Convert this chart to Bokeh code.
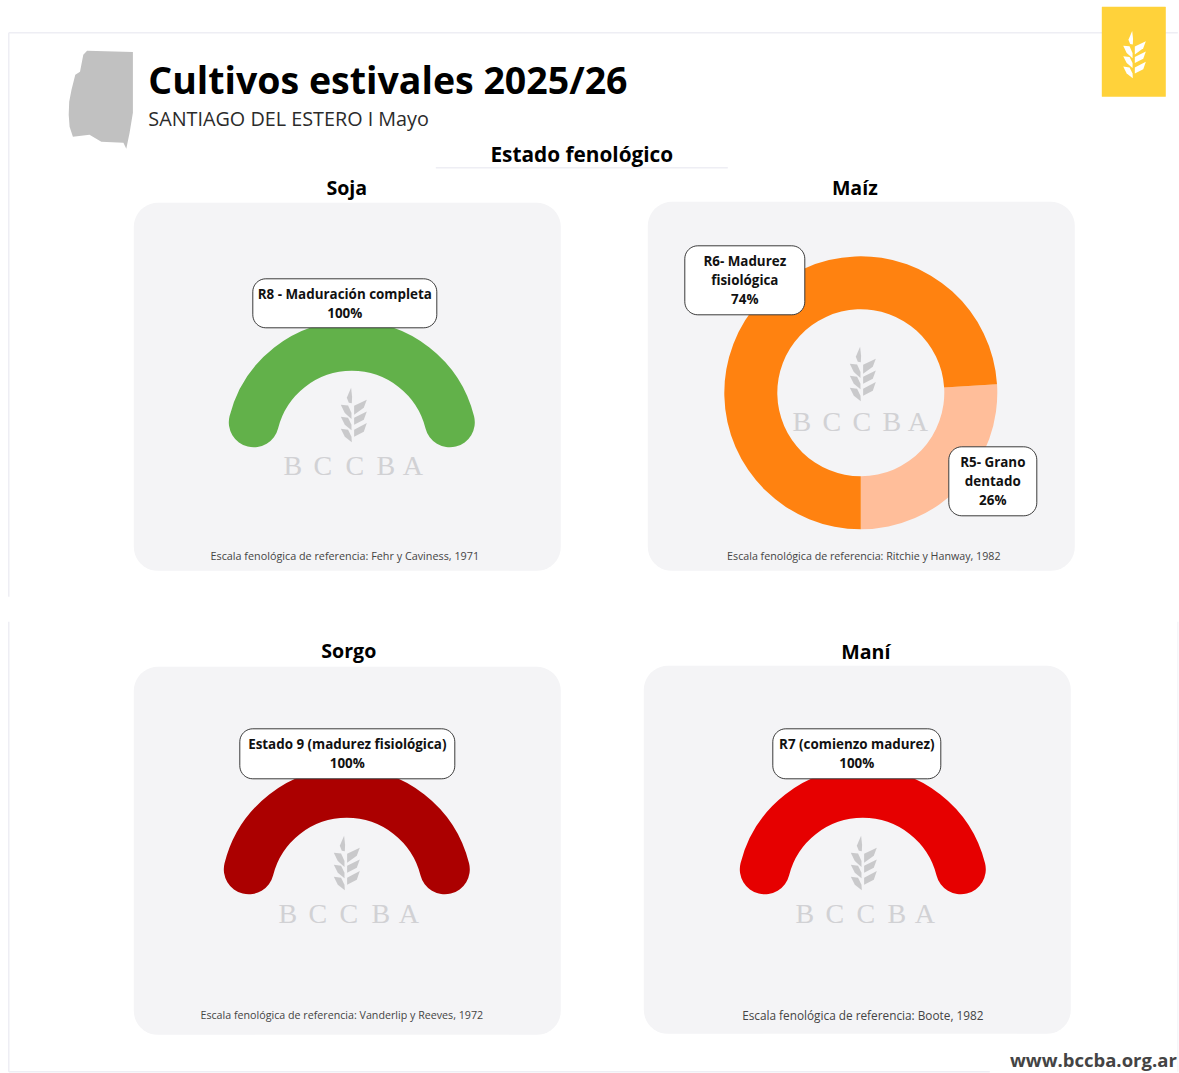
import math
from bokeh.plotting import figure
from bokeh.models import Range1d
from bokeh.core.properties import value
from bokeh.embed import file_html
from bokeh.resources import INLINE

# ---- data ----
crops = ["Soja", "Sorgo", "Maní"]
stages = [["R8 - Maduración completa"], ["Estado 9 (madurez fisiológica)"], ["R7 (comienzo madurez)"]]
percents = [100, 100, 100]
colors = ["#62B14A", "#AB0000", "#E60000"]
footers = ["Escala fenológica de referencia: Fehr y Caviness, 1971",
           "Escala fenológica de referencia: Vanderlip y Reeves, 1972",
           "Escala fenológica de referencia: Boote, 1982"]
maiz_values = [26, 74]
maiz_colors = ["#FFBE9A", "#FF8210"]
maiz_labels = [["R5- Grano", "dentado"], ["R6- Madurez", "fisiológica"]]
maiz_footer = "Escala fenológica de referencia: Ritchie y Hanway, 1982"
title = "Cultivos estivales 2025/26"
subtitle = "SANTIAGO DEL ESTERO I Mayo"
section = "Estado fenológico"
website = "www.bccba.org.ar"
brand = ["B", "C", "C", "B", "A"]

FONT = "Open Sans"
p = figure(width=1179, height=1073, output_backend="svg", toolbar_location=None,
           x_range=Range1d(0.7, 1179.7), y_range=Range1d(1073.7, 0.7),
           min_border=0, min_border_left=0, min_border_right=0, min_border_top=0, min_border_bottom=0)
p.axis.visible = False
p.grid.visible = False
p.outline_line_color = None
p.background_fill_color = "white"
p.border_fill_color = "white"


def label(x, y, t, size, color="#000000", style="normal", align="center", font=FONT):
    p.text([x], [y], text=[t], text_font=value(font), text_font_size=f"{size}px",
           text_font_style=style, text_color=color, text_align=align, text_baseline="middle")


def rrect(x0, y0, x1, y1, r, fill, line=None, lw=1.0):
    xs, ys = [], []
    corners = [(x1 - r, y0 + r, -90), (x1 - r, y1 - r, 0), (x0 + r, y1 - r, 90), (x0 + r, y0 + r, 180)]
    for cx, cy, a0 in corners:
        for k in range(11):
            a = math.radians(a0 + 9 * k)
            xs.append(cx + r * math.cos(a))
            ys.append(cy + r * math.sin(a))
    p.patch(xs, ys, fill_color=fill, line_color=line if line else fill,
            line_width=lw if line else 0, line_alpha=1 if line else 0)


LEAVES = [
    [(-0.7, -1), (-5, 9), (-3, 14), (0, 14.5), (0.3, 8)],
    [(2.3, 17), (15, 11), (12, 19), (2.3, 26)],
    [(2.3, 29), (15, 22.7), (12, 31), (2.3, 36)],
    [(2.3, 41), (15, 34.3), (12, 43), (2.3, 48)],
    [(-11, 16), (-3.7, 16.7), (-0.3, 24.3), (-0.3, 30.3), (-7, 24.3)],
    [(-11, 28), (-3.7, 29), (-0.3, 36), (-0.3, 41.5), (-7, 36)],
    [(-11, 40), (-3.7, 41), (-0.3, 48), (0, 53.5), (-7, 48)],
]


def wheat(cx, top, color, s=1.0):
    for shape in LEAVES:
        p.patch([cx + a * s for a, _ in shape], [top + b * s for _, b in shape],
                fill_color=color, line_color=None)


def brand_mark(cx, top, xs, base):
    wheat(cx, top, "#C9C9CB")
    for x, ch in zip(xs, brand):
        p.text([x], [base - 9], text=[ch], text_font=value("Liberation Serif"), text_font_size="28px",
               text_color="#D1D1D4", text_align="center", text_baseline="middle")


# ---- frame ----
FRAME = "#EEEEF4"
p.line([9, 1178], [33, 33], line_color=FRAME, line_width=1.5)
p.line([9, 9], [33, 597], line_color=FRAME, line_width=1.5)
p.line([9, 9], [622, 1072], line_color=FRAME, line_width=1.5)
p.line([9, 990], [1072, 1072], line_color=FRAME, line_width=1.5)
p.line([1178, 1178], [622, 1072], line_color="#F6F6F9", line_width=1.5)
p.line([436, 728], [168, 168], line_color=FRAME, line_width=1.5)

# ---- header ----
p.patch([87.3, 133.1, 133.1, 129.8, 126.5, 123.6, 101.5, 89.7, 73.1, 69.8, 68.9, 69.4, 71.7, 75.5, 80.2, 83.5],
        [51, 52.3, 113, 133, 149, 143, 142, 135, 137, 127, 115, 102, 90, 75, 72, 55],
        fill_color="#C1C1C1", line_color=None)
rrect(1102, 7, 1166, 97, 0.5, "#FFD23A")
wheat(1133, 32, "#FFFFFF", 0.87)
label(148.5, 80, title, 37.5, style="bold", align="left")
label(148.5, 119, subtitle, 19.8, color="#2B2B2B", align="left")
label(582, 154, section, 20.8, style="bold")

# ---- cards ----
card_boxes = [(134, 203, 561, 571), (134, 667, 561, 1035), (644, 666, 1071, 1034)]
title_pos = [(347, 188), (349, 651), (866, 652)]
footer_pos = [(345, 556), (342, 1015), (863, 1015)]
footer_size = [10.8, 10.7, 11.8]
gauge_c = [(352, 447), (347, 894), (863, 894)]
logo = [(352, 389, [293, 323, 355, 386, 413], 475),
        (345, 837, [288, 318, 349, 381, 409], 923),
        (862, 837, [805, 835, 866, 897, 925], 923)]
box = [(253, 279, 437, 328), (240, 729, 455, 779), (773, 729, 941, 779)]

for i, crop in enumerate(crops):
    x0, y0, x1, y1 = card_boxes[i]
    rrect(x0, y0, x1, y1, 24, "#F4F4F6")
    label(title_pos[i][0], title_pos[i][1], crop, 19.6, style="bold")
    label(footer_pos[i][0], footer_pos[i][1], footers[i], footer_size[i], color="#444444")
    cx, cy = gauge_c[i]
    start = math.radians(14)
    end = math.radians(14 + 152 * percents[i] / 100)
    p.arc([cx], [cy], radius=[101], start_angle=[start], end_angle=[end], direction="anticlock",
          line_color=colors[i], line_width=50, line_cap="round")
    brand_mark(logo[i][0], logo[i][1], logo[i][2], logo[i][3])
    bx0, by0, bx1, by1 = box[i]
    rrect(bx0, by0, bx1, by1, 13, "#FFFFFF", "#3A3A3A", 1.0)
    bc = (bx0 + bx1) / 2
    label(bc, by0 + 15, stages[i][0], 13.4, style="bold", color="#111111")
    label(bc, by0 + 34, f"{percents[i]}%", 13.4, style="bold", color="#111111")

# ---- Maíz donut ----
rrect(648, 202, 1075, 571, 24, "#F4F4F6")
label(855, 188, "Maíz", 19.6, style="bold")
label(864, 556, maiz_footer, 10.7, color="#444444")
a = -math.pi / 2
for v, c in zip(maiz_values, maiz_colors):
    b = a + 2 * math.pi * v / sum(maiz_values)
    p.annular_wedge([861], [393], inner_radius=[83.5], outer_radius=[136.5], start_angle=[a], end_angle=[b],
                    direction="anticlock", fill_color=c, line_color=None)
    a = b
brand_mark(861, 348, [802, 832, 862, 892, 918], 431)
m_box = [(949, 447, 1037, 516), (685, 246, 805, 315)]
for lines, v, (bx0, by0, bx1, by1) in zip(maiz_labels, maiz_values, m_box):
    rrect(bx0, by0, bx1, by1, 13, "#FFFFFF", "#3A3A3A", 1.0)
    bc = (bx0 + bx1) / 2
    label(bc, by0 + 15, lines[0], 13.4, style="bold", color="#111111")
    label(bc, by0 + 34, lines[1], 13.4, style="bold", color="#111111")
    label(bc, by0 + 53, f"{v}%", 13.4, style="bold", color="#111111")

label(1177, 1060, website, 18.5, color="#444444", style="bold", align="right")

open("out.html", "w").write(file_html(p, INLINE))
